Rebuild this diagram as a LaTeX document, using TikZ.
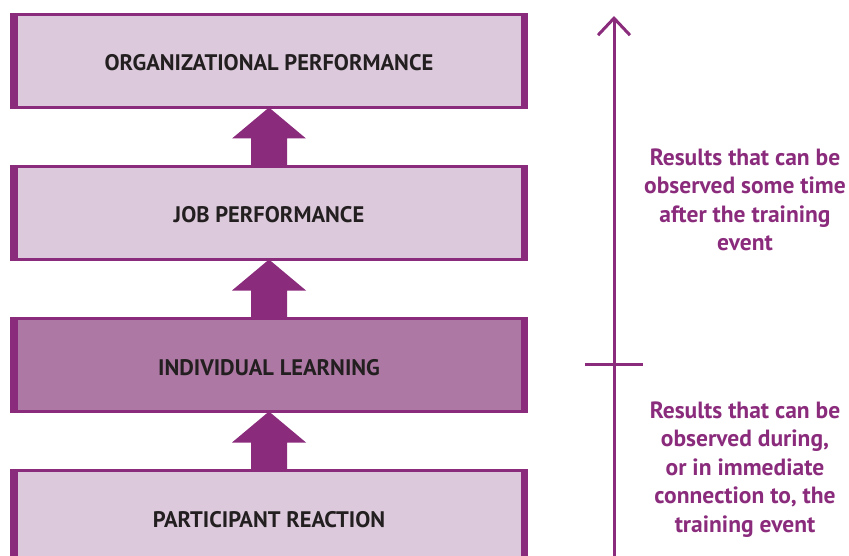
\documentclass[tikz,border=0pt]{standalone}
\usepackage{fontspec}
\setmainfont{PT Sans}
\usetikzlibrary{positioning,calc,arrows.meta}
\definecolor{plum}{HTML}{8A2B7C}
\definecolor{lightplum}{HTML}{DCCADC}
\definecolor{midplum}{HTML}{AD78A4}
\definecolor{ink}{HTML}{231F20}
\begin{document}
\begin{tikzpicture}[x=1pt,y=-1pt,
		level/.style={draw=plum,line width=3pt,fill=lightplum,minimum width=515pt,minimum height=93pt,outer sep=0pt,text=ink,text height=20pt,text depth=0pt,font=\fontsize{22.5}{26}\selectfont\bfseries},
		note/.style={text=plum,align=center,font=\fontsize{23.5}{28.5}\selectfont\bfseries},
		node distance=59pt]
		\useasboundingbox (0,0) rectangle (849,556);

		\node[level] (org) at (269,61) {ORGANIZATIONAL PERFORMANCE};
		\node[level,below=of org] (job) {JOB PERFORMANCE};
		\node[level,below=of job,fill=midplum] (learn) {INDIVIDUAL LEARNING};
		\node[level,below=of learn] (react) {PARTICIPANT REACTION};

		% thick side bars
		\foreach \b in {org,job,learn,react} {
			\fill[plum] ([xshift=-1.5pt,yshift=1.5pt]\b.north west) rectangle ([xshift=6.5pt,yshift=-1.5pt]\b.south west);
			\fill[plum] ([xshift=-5.5pt,yshift=1.5pt]\b.north east) rectangle ([xshift=1.5pt,yshift=-1.5pt]\b.south east);
		}

		% block arrows
		\foreach \lo/\hi in {react/learn,learn/job,job/org} {
			\fill[plum] let \p1=(\lo.north), \p2=(\hi.south) in
				(\x1-18pt,\y1) -- (\x1-18pt,\y2-31pt) -- (\x1-37pt,\y2-31pt) -- (\x2,\y2)
				-- (\x1+37pt,\y2-31pt) -- (\x1+18pt,\y2-31pt) -- (\x1+18pt,\y1) -- cycle;
		}

		% time line
		\coordinate (tlbot) at (614,560);
		\coordinate (tltop) at (614,16);
		\coordinate (tickl) at (585,364);
		\coordinate (tickr) at (643,364);
		\draw[plum,line width=3pt,-{Straight Barb[length=17pt,width=32pt]}] (tlbot) -- (tltop);
		\draw[plum,line width=3pt] (tickl) -- (tickr);

		\node[note] (later) at (745,200) {Results that can be\\observed some time\\after the training\\event};
		\node[note] (during) at (745,469.5) {Results that can be\\observed during,\\or in immediate\\connection to, the\\training event};
	\end{tikzpicture}
\end{document}
